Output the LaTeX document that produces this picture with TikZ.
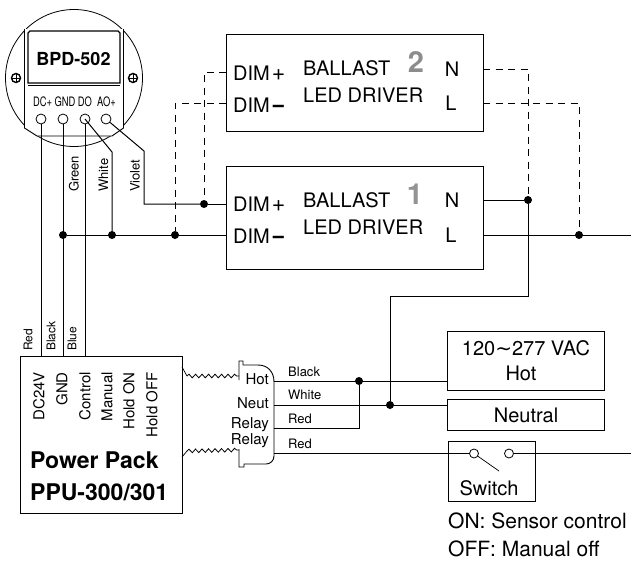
\documentclass[tikz,border=0pt]{standalone}
\usepackage{fontspec}
\setmainfont{TeX Gyre Heros}
\newfontfamily\symfont{DejaVu Sans}
\usetikzlibrary{decorations.pathmorphing}
\newcommand{\dimplus}{DIM\kern2pt{\fontsize{23}{24}\selectfont+}}
\newcommand{\dimminus}{DIM\kern1.5pt{\bfseries\fontsize{24}{24}\selectfont−}}
\tikzset{
  wire/.style={line width=1pt},
  dashwire/.style={line width=0.9pt,dash pattern=on 7pt off 5.5pt},
  wavy/.style={line width=0.8pt,decorate,decoration={snake,segment length=6.5pt,amplitude=1.8pt}},
  box/.style={draw,line width=1pt,inner sep=0pt},
  dot/.style={circle,fill=black,inner sep=0pt,minimum size=8pt},
  port/.style={circle,draw,line width=0.8pt,inner sep=0pt,minimum size=10pt},
  txt/.style={inner sep=0pt,font=\fontsize{20}{24}\selectfont},
  lab/.style={inner sep=0pt,font=\fontsize{13}{15}\selectfont},
  vlab/.style={lab,rotate=90,anchor=west},
  pin/.style={inner sep=0pt,rotate=90,anchor=east,font=\fontsize{15}{18}\selectfont},
  plug/.style={inner sep=0pt,anchor=east,font=\fontsize{15}{18}\selectfont},
  term/.style={inner sep=0pt,xscale=0.72,font=\fontsize{13}{15}\selectfont},
  screw/.style={circle,draw,line width=1.4pt,inner sep=0pt,minimum size=9pt},
}
\begin{document}
\begin{tikzpicture}[x=1pt,y=-1pt]
\useasboundingbox (0,0) rectangle (631,562);

\draw[line width=0.8pt] (74,78) circle (68.5);
\draw[fill=white,line width=0.9pt] (24.5,29) -- (24.5,128) -- (37,136) -- (112,136) -- (123.5,128) -- (123.5,29);
\draw[line width=1.3pt] (30,31) -- (118,31) -- (120,33) -- (120,83) -- (28,83) -- (28,33) -- cycle;
\draw[line width=0.5pt] (28,85) -- (120,85);
\draw (16,78) node[screw] (screwL) {};
\draw (133,78) node[screw] (screwR) {};
\draw (screwL.west) -- (screwL.east) (screwL.north) -- (screwL.south);
\draw (screwR.west) -- (screwR.east) (screwR.north) -- (screwR.south);
\draw (73.5,59) node[inner sep=0pt,font=\bfseries\fontsize{18}{20}\selectfont] (sensor) {BPD-502};
\draw (42.5,102) node[term] (lblDC) {DC+};
\draw (65,102) node[term] (lblGND) {GND};
\draw (85,102) node[term] (lblDO) {DO};
\draw (106.5,102) node[term] (lblAO) {AO+};

\draw (354.5,82.5) node[box,minimum width=257pt,minimum height=97pt] (ballastB) {};
\draw (354.5,217.5) node[box,minimum width=257pt,minimum height=103pt] (ballastA) {};
\draw (20,356) node[box,anchor=north west,minimum width=162pt,minimum height=157pt] (pack) {};
\draw (525.5,360.5) node[box,minimum width=157pt,minimum height=59pt] (hot) {};
\draw (525.5,414.5) node[box,minimum width=157pt,minimum height=31pt] (neutral) {};
\draw (491.5,471) node[box,minimum width=87pt,minimum height=60pt] (switch) {};

\coordinate (dimBp) at (226,72);
\coordinate (dimBm) at (226,103);
\coordinate (dimAp) at (226,204);
\coordinate (dimAm) at (226,235);
\coordinate (nB) at (483,69);
\coordinate (lB) at (483,103);
\coordinate (nA) at (483,200);
\coordinate (lA) at (483,235);
\coordinate (mains) at (631,235);
\coordinate (load) at (631,453.5);
\coordinate (pinDC) at (41,356);
\coordinate (pinGND) at (63,356);
\coordinate (pinCtl) at (85,356);
\coordinate (hotIn) at (447,381);
\coordinate (neutIn) at (447,405);
\coordinate (plugHot) at (274,381);
\coordinate (plugNeut) at (274,405);
\coordinate (plugRelA) at (274,428);
\coordinate (plugRelB) at (274,453.5);
\coordinate (packTop) at (182,367);
\coordinate (packLow) at (182,457);
\coordinate (waveA) at (239,376);
\coordinate (waveB) at (239,450);

\draw (63,235) node[dot] (j1) {};
\draw (112,235) node[dot] (j2) {};
\draw (175,235) node[dot] (j3) {};
\draw (204,204) node[dot] (j4) {};
\draw (528,200) node[dot] (j5) {};
\draw (579,235) node[dot] (j6) {};
\draw (359,381) node[dot] (j7) {};
\draw (390,405) node[dot] (j8) {};

\draw[dashwire] (dimBp) -- (204,72) -- (j4);
\draw[dashwire] (dimBm) -- (175,103) -- (j3);
\draw[dashwire] (nB) -- (528,69) -- (j5);
\draw[dashwire] (lB) -- (579,103) -- (j6);

\draw (41,119) node[port] (portDC) {};
\draw (63,119) node[port] (portGND) {};
\draw (85,119) node[port] (portDO) {};
\draw (106,119) node[port] (portAO) {};
\draw[wire] (portDC) -- (pinDC);
\draw[wire] (portGND) -- (pinGND);
\draw[wire] (portDO) -- (pinCtl);
\draw[wire] (portDO.center) -- (112,152) -- (j2);
\draw[wire] (portAO) -- (144,151) -- (144,204) -- (j4);
\draw[wire] (j4) -- (dimAp);
\draw[wire] (j1) -- (dimAm);
\draw[wire] (lA) -- (mains);
\draw[wire] (nA) -- (j5) -- (528,296) -- (390,296) -- (j8);
\draw[wire] (plugHot) -- (hotIn);
\draw[wire] (plugNeut) -- (neutIn);
\draw[wire] (j7) -- (359,428) -- (plugRelA);

\draw[line width=0.9pt] (239,380) -- (239,361) -- (243,361) -- (243,365) -- (258,365) .. controls (268,365) and (274,372) .. (274,382) -- (274,456) .. controls (274,461) and (270,464) .. (266,464) -- (244,464) -- (244,467) -- (239,467) -- (239,449);
\draw[line width=0.7pt] (packTop) -- (187,376);
\draw[line width=0.7pt] (packLow) -- (187,451);
\draw[wavy] (187,376) -- (waveA);
\draw[wavy] (187,451) -- (waveB);

\draw (509,453.5) node[port,minimum size=9pt] (contactB) {};
\draw (474,453.5) node[port,minimum size=9pt] (contactA) {};
\draw[wire] (plugRelB) -- (contactA);
\draw[wire] (contactB) -- (load);
\draw[line width=0.7pt] (contactA) -- (499,471);

\draw (233,73) node[txt,anchor=west] (dimBplus) {\dimplus};
\draw (233,105) node[txt,anchor=west] (dimBminus) {\dimminus};
\draw (233,204) node[txt,anchor=west] (dimAplus) {\dimplus};
\draw (233,236) node[txt,anchor=west] (dimAminus) {\dimminus};
\draw (303,68) node[txt,anchor=west] (ballastBt) {BALLAST};
\draw (303,95) node[txt,anchor=west] (driverBt) {LED DRIVER};
\draw (303,200) node[txt,anchor=west] (ballastAt) {BALLAST};
\draw (303,227) node[txt,anchor=west] (driverAt) {LED DRIVER};
\draw (416,62) node[inner sep=0pt,text=gray!90,font=\bfseries\fontsize{29}{30}\selectfont] (numB) {2};
\draw (415,194) node[inner sep=0pt,text=gray!85,font=\bfseries\fontsize{29}{30}\selectfont] (numA) {1};
\draw (452,69) node[txt] (nBt) {N};
\draw (451,103) node[txt] (lBt) {L};
\draw (452,200) node[txt] (nAt) {N};
\draw (451,235) node[txt] (lAt) {L};

\draw (74,192) node[vlab] (wGreen) {Green};
\draw (103.5,192) node[vlab] (wWhite) {White};
\draw (135,192) node[vlab] (wViolet) {Violet};
\draw (28,351) node[vlab,font=\fontsize{12}{14}\selectfont] (wRed) {Red};
\draw (51,351) node[vlab,font=\fontsize{12}{14}\selectfont] (wBlack) {Black};
\draw (72,351) node[vlab,font=\fontsize{12}{14}\selectfont] (wBlue) {Blue};

\draw (39,372) node[pin] (pDC) {DC24V};
\draw (62,372) node[pin] (pGND) {GND};
\draw (85,372) node[pin] (pCtl) {Control};
\draw (107,372) node[pin] (pMan) {Manual};
\draw (129,372) node[pin] (pOn) {Hold ON};
\draw (152,372) node[pin] (pOff) {Hold OFF};
\draw (30,460) node[anchor=west,inner sep=0pt,font=\bfseries\fontsize{23}{25}\selectfont] (packA) {Power Pack};
\draw (30,492) node[anchor=west,inner sep=0pt,font=\bfseries\fontsize{23}{25}\selectfont] (packB) {PPU-300/301};

\draw (269,379) node[plug] (hHot) {Hot};
\draw (269,403) node[plug] (hNeut) {Neut};
\draw (269,425) node[plug] (hRelA) {Relay};
\draw (269,441) node[plug] (hRelB) {Relay};
\draw (288,372) node[lab,anchor=west] (cBlack) {Black};
\draw (288,395) node[lab,anchor=west] (cWhite) {White};
\draw (288,419) node[lab,anchor=west] (cRedA) {Red};
\draw (288,444) node[lab,anchor=west] (cRedB) {Red};

\draw (526,348) node[txt] (hotA) {120{\symfont∼}277 VAC};
\draw (521,373) node[txt] (hotB) {Hot};
\draw (526,415) node[txt] (neutT) {Neutral};
\draw (489,488) node[txt] (switchT) {Switch};
\draw (448,521) node[txt,anchor=west,font=\fontsize{21}{24}\selectfont] (onT) {ON: Sensor control};
\draw (448,549) node[txt,anchor=west,font=\fontsize{21}{24}\selectfont] (offT) {OFF: Manual off};
\end{tikzpicture}
\end{document}
